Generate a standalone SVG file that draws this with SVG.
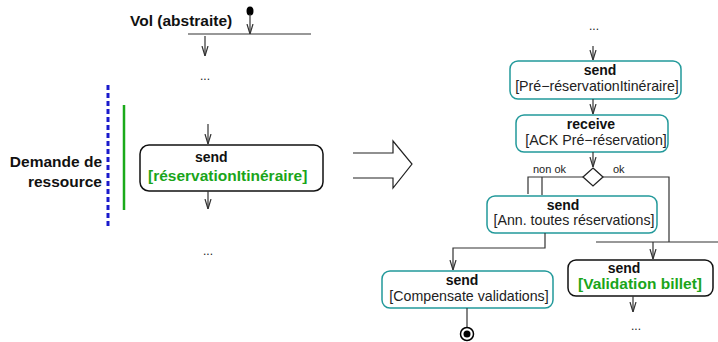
<svg xmlns="http://www.w3.org/2000/svg" width="718" height="342" viewBox="0 0 718 342">
<style>
.b{font-family:"Liberation Sans",Arial,sans-serif;font-weight:bold;font-size:14px;fill:#111}
.r{font-family:"Liberation Sans",Arial,sans-serif;font-size:14.2px;fill:#222}
.g{font-family:"Liberation Sans",Arial,sans-serif;font-weight:bold;font-size:15.5px;fill:#1aa51a}
.s{font-family:"Liberation Sans",Arial,sans-serif;font-size:11px;fill:#222}
.lbl{font-family:"Liberation Sans",Arial,sans-serif;font-weight:bold;font-size:15.5px;fill:#111}
.dots{font-family:"Liberation Sans",Arial,sans-serif;font-size:12px;fill:#222;text-anchor:middle}
.box{fill:#fff;stroke:#111;stroke-width:1.5}
.tbox{fill:#fff;stroke:#22999a;stroke-width:1.5}
.ln{fill:none;stroke:#333;stroke-width:1.2}
.arr{fill:none;stroke:#333;stroke-width:1.2;marker-end:url(#ah)}
</style>
<defs>
<marker id="ah" viewBox="0 0 10 8" refX="10" refY="4" markerWidth="10" markerHeight="8" markerUnits="userSpaceOnUse" orient="auto">
<path d="M0,1 L10,4 L0,7" fill="none" stroke="#333" stroke-width="1.2"/>
</marker>
</defs>
<g id="left-title">
<text class="lbl" x="130" y="26">Vol (abstraite)</text>
<ellipse cx="250" cy="11" rx="3.5" ry="4.5" fill="#000"/>
</g>
<g id="swimlane-labels">
<text class="lbl" x="102" y="167" text-anchor="end">Demande de</text>
<text class="lbl" x="102" y="187" text-anchor="end">ressource</text>
<line x1="108" y1="85" x2="108" y2="226" stroke="#1a1acc" stroke-width="3" stroke-dasharray="5,3"/>
<line x1="124" y1="105" x2="124" y2="210" stroke="#1aaa1a" stroke-width="2.5"/>
</g>
<g id="node-send-reservation">
<rect class="box" x="140" y="145" width="183" height="46" rx="9"/>
<text class="b" x="195" y="162">send</text>
<text class="g" x="148" y="181">[réservationItinéraire]</text>
</g>
<g id="dots-left">
<text class="dots" x="205" y="80">...</text>
<text class="dots" x="208" y="255">...</text>
</g>
<g id="big-arrow">
<path d="M353,153 L393,153 L393,141 L412,164 L393,188 L393,178 L353,178" fill="#fff" stroke="#222" stroke-width="1.2"/>
</g>
<g id="node-pre-reservation">
<rect class="tbox" x="510" y="61" width="171" height="38" rx="8"/>
<text class="b" x="600" y="75" text-anchor="middle">send</text>
<text class="r" x="597" y="91" text-anchor="middle">[Pré−réservationItinéraire]</text>
</g>
<g id="node-ack">
<rect class="tbox" x="516" y="115" width="152" height="37" rx="8"/>
<text class="b" x="591" y="129" text-anchor="middle">receive</text>
<text class="r" x="596" y="145" text-anchor="middle">[ACK Pré−réservation]</text>
</g>
<g id="node-decision">
<path d="M593,168 L603,177 L593,186 L583,177 Z" fill="#fff" stroke="#222" stroke-width="1.3"/>
<text class="s" x="533" y="173">non ok</text>
<text class="s" x="613" y="173">ok</text>
</g>
<g id="node-annulation">
<rect class="tbox" x="487" y="196" width="170" height="37" rx="8"/>
<text class="b" x="563" y="210" text-anchor="middle">send</text>
<text class="r" x="574" y="225" text-anchor="middle">[Ann. toutes réservations]</text>
</g>
<g id="node-compensate">
<rect class="tbox" x="382" y="271" width="171" height="37" rx="8"/>
<text class="b" x="462" y="285" text-anchor="middle">send</text>
<text class="r" x="469" y="301" text-anchor="middle">[Compensate validations]</text>
</g>
<g id="node-validation">
<rect class="box" x="568" y="260" width="145" height="36" rx="8"/>
<text class="b" x="624" y="273" text-anchor="middle">send</text>
<text class="g" x="640" y="289" text-anchor="middle">[Validation billet]</text>
</g>
<g id="node-final">
<circle cx="467" cy="334" r="6.5" fill="#fff" stroke="#000" stroke-width="1.5"/>
<circle cx="467" cy="334" r="3.5" fill="#000"/>
</g>
<g id="dots-right">
<text class="dots" x="594" y="30">...</text>
<text class="dots" x="636" y="330">...</text>
</g>
<g id="connectors">
<line class="arr" x1="250" y1="14" x2="250" y2="34"/>
<line class="ln" x1="188" y1="34" x2="311" y2="34"/>
<line class="arr" x1="205" y1="36" x2="205" y2="56"/>
<line class="arr" x1="208" y1="124" x2="208" y2="144"/>
<line class="arr" x1="208" y1="191" x2="208" y2="209"/>
<line class="arr" x1="593" y1="46" x2="593" y2="60"/>
<line class="arr" x1="593" y1="99" x2="593" y2="114"/>
<line class="arr" x1="593" y1="152" x2="593" y2="167"/>
<polyline class="ln" points="528,194 528,177 583,177"/>
<line class="ln" x1="542" y1="177" x2="542" y2="195"/>
<polyline class="ln" points="603,177 669,177 669,242"/>
<line class="ln" x1="596" y1="242" x2="718" y2="242"/>
<line class="arr" x1="653" y1="242" x2="653" y2="259"/>
<polyline class="arr" points="545,233 545,248 453,248 453,270"/>
<line class="ln" x1="467" y1="308" x2="467" y2="327"/>
<line class="arr" x1="633" y1="296" x2="633" y2="312"/>
</g>
</svg>
